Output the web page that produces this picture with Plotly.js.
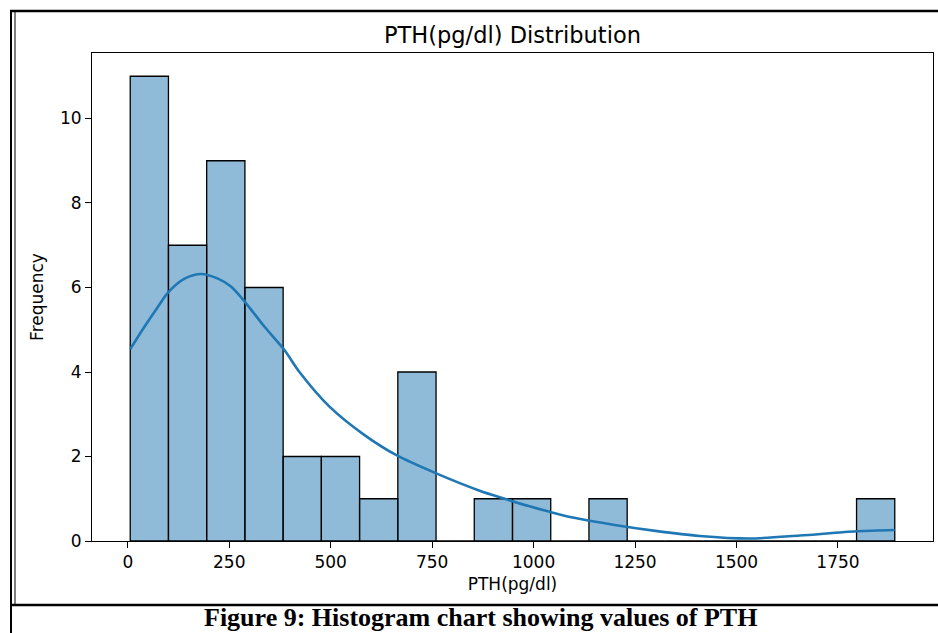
<!DOCTYPE html>
<html>
<head>
<meta charset="utf-8">
<script src="https://cdn.plot.ly/plotly-3.0.1.min.js"></script>
<style>
  html, body { margin: 0; padding: 0; background: #ffffff; }
  #chart { width: 938px; height: 633px; }
</style>
</head>
<body>
<div id="chart"></div>
<script>
// PTH readings grouped into 20 equal-width bins between the lowest and highest value
const binStart = 6;
const binEnd = 1890;
const binCounts = [11, 7, 9, 6, 2, 2, 1, 4, 0, 1, 1, 0, 1, 0, 0, 0, 0, 0, 0, 1];

// Kernel density estimate of the same readings, in count units
const kdeX = [6, 41, 74, 99, 140, 181, 222, 255, 292, 337, 386, 423, 497, 580, 662, 760,
              867, 925, 990, 1040, 1100, 1200, 1300, 1409, 1533, 1656, 1796, 1890];
const kdeY = [4.54, 5.07, 5.54, 5.88, 6.21, 6.32, 6.21, 6.02, 5.62, 5.07, 4.52, 4.0, 3.18, 2.53, 2.03, 1.60,
              1.19, 1.01, 0.82, 0.69, 0.55, 0.38, 0.24, 0.12, 0.06, 0.13, 0.23, 0.26];

const xTicks = [0, 250, 500, 750, 1000, 1250, 1500, 1750];
const yTicks = [0, 2, 4, 6, 8, 10];

const titleText = 'PTH(pg/dl) Distribution';
const xLabel = 'PTH(pg/dl)';
const yLabel = 'Frequency';
const caption = 'Figure 9: Histogram chart showing values of PTH';

// Bin geometry derived from the range and count
const binWidth = (binEnd - binStart) / binCounts.length;
const binCenters = binCounts.map((_, i) => binStart + binWidth * (i + 0.5));

// Axis limits with a 5% margin on x and headroom above the tallest bar
const span = binEnd - binStart;
const xRange = [binStart - 0.05 * span, binEnd + 0.05 * span];
const yRange = [0, Math.max(...binCounts) * 1.05];

// Page layout in pixels
const W = 938, H = 633;
const M = { l: 92, r: 5, t: 53, b: 92 };
const plotW = W - M.l - M.r;
const plotH = H - M.t - M.b;
const px = X => (X - M.l) / plotW;
const py = Y => (H - M.b - Y) / plotH;

const FONT = 'DejaVu Sans, Verdana, sans-serif';
const BLUE = '#1f77b4';

const bars = {
  type: 'bar',
  x: binCenters,
  y: binCounts,
  width: binWidth,
  marker: {
    color: 'rgba(31,119,180,0.5)',
    line: { color: '#000000', width: 1.3 }
  },
  hoverinfo: 'skip',
  showlegend: false
};

const kde = {
  type: 'scatter',
  mode: 'lines',
  x: kdeX,
  y: kdeY,
  line: { color: BLUE, width: 2.6, shape: 'spline', smoothing: 0.8 },
  hoverinfo: 'skip',
  showlegend: false
};

// Document frame lines around the figure and above its caption
const frameLine = (x0, y0, x1, y1, w) => ({
  type: 'line', xref: 'paper', yref: 'paper',
  x0: px(x0), y0: py(y0), x1: px(x1), y1: py(y1),
  line: { color: '#000000', width: w }
});

const layout = {
  width: W,
  height: H,
  margin: M,
  paper_bgcolor: '#ffffff',
  plot_bgcolor: '#ffffff',
  font: { family: FONT, color: '#000000', size: 17 },
  title: {
    text: titleText,
    font: { family: FONT, size: 22.5, color: '#000000' },
    xref: 'paper', x: 0.5, xanchor: 'center',
    yref: 'container', y: 1 - 35 / H, yanchor: 'middle'
  },
  bargap: 0,
  xaxis: {
    range: xRange,
    tickmode: 'array',
    tickvals: xTicks,
    ticktext: xTicks.map(String),
    ticks: 'outside', ticklen: 6, tickwidth: 1, tickcolor: '#000000',
    showgrid: false, zeroline: false,
    showline: true, mirror: true, linecolor: '#000000', linewidth: 1,
    tickfont: { family: FONT, size: 17, color: '#000000' },
    title: { text: xLabel, font: { family: FONT, size: 17, color: '#000000' }, standoff: 6 }
  },
  yaxis: {
    range: yRange,
    tickmode: 'array',
    tickvals: yTicks,
    ticktext: yTicks.map(String),
    ticks: 'outside', ticklen: 6, tickwidth: 1, tickcolor: '#000000',
    showgrid: false, zeroline: false,
    showline: true, mirror: true, linecolor: '#000000', linewidth: 1,
    tickfont: { family: FONT, size: 17, color: '#000000' },
    title: { text: yLabel, font: { family: FONT, size: 17, color: '#000000' }, standoff: 12 }
  },
  shapes: [
    frameLine(10, 11, 938, 11, 2.5),
    frameLine(11, 10, 11, 633, 2),
    frameLine(15, 11, 15, 605, 1),
    frameLine(10, 605, 938, 605, 2.5)
  ],
  annotations: [{
    text: '<b>' + caption + '</b>',
    xref: 'paper', yref: 'paper',
    x: px(480), y: py(617),
    xanchor: 'center', yanchor: 'middle',
    showarrow: false,
    font: { family: 'Liberation Serif, Times New Roman, serif', size: 26, color: '#000000' }
  }]
};

Plotly.newPlot('chart', [bars, kde], layout, { displayModeBar: false, staticPlot: true });
</script>
</body>
</html>
